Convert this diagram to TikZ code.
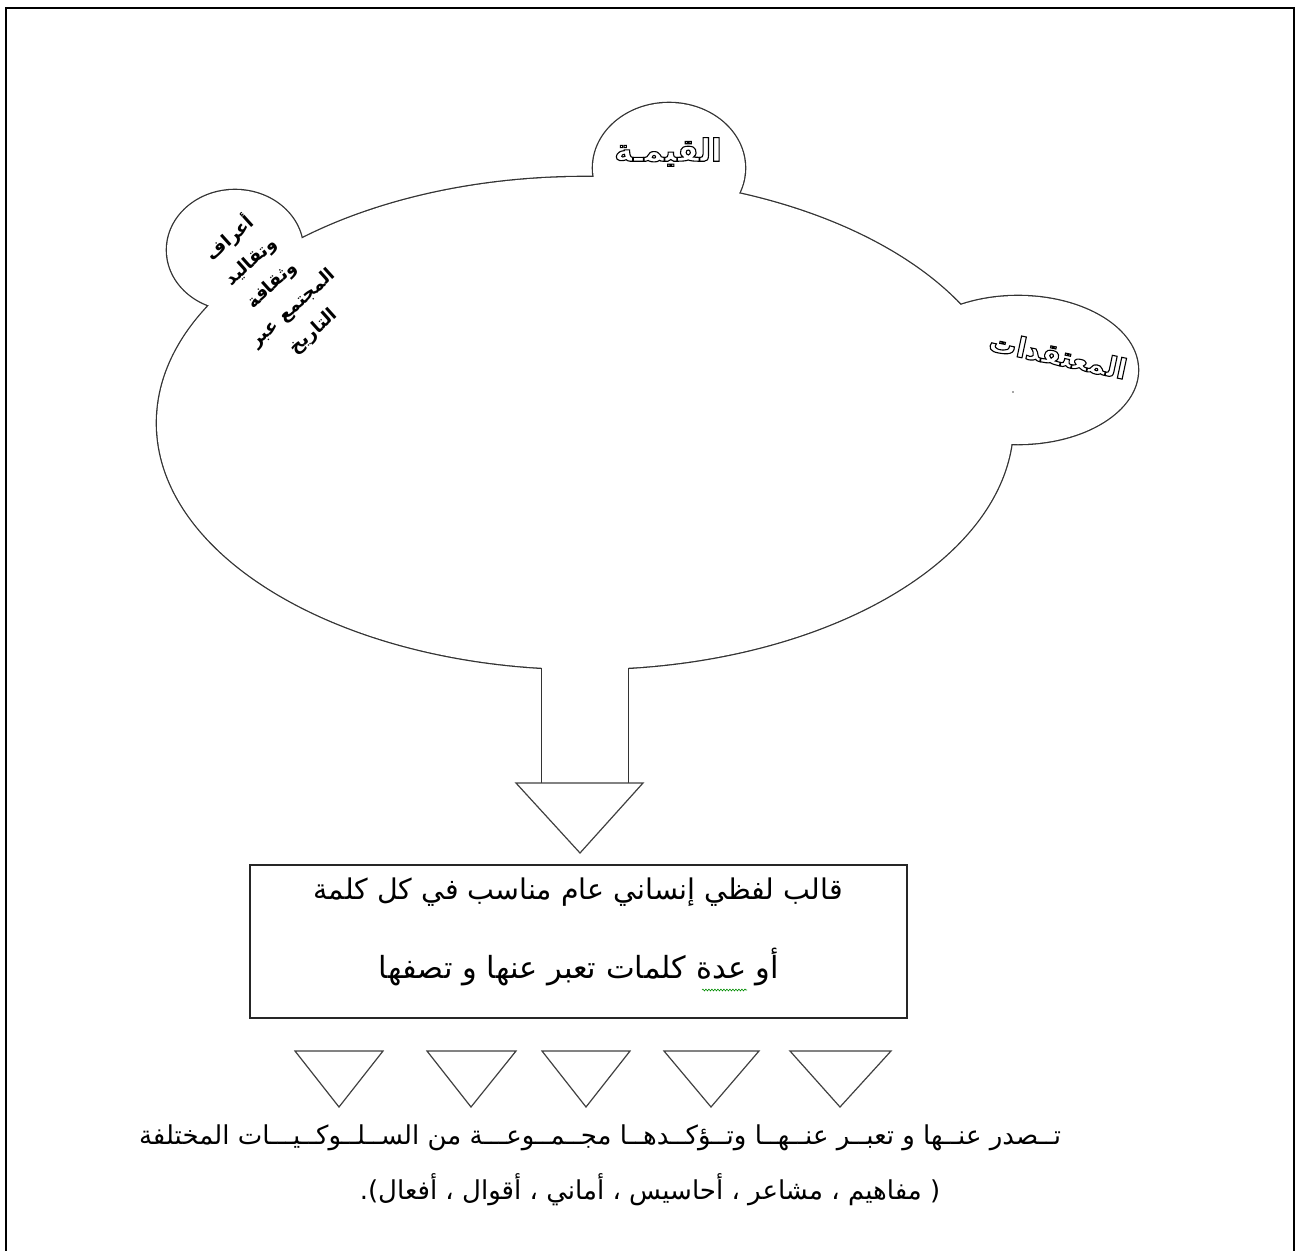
\documentclass[tikz,border=0pt]{standalone}
\usepackage{fontspec}
\usetikzlibrary{decorations.pathmorphing}
\TeXXeTstate=1
\newfontfamily\arabicfont[Script=Arabic]{DejaVu Sans}
\newcommand\hollowtxt[1]{\special{pdf:literal direct 1 Tr 1.1 w}#1\special{pdf:literal direct 0 Tr}}
\tikzset{
  outl/.style={draw=black!80,line width=2.6pt},
  tri/.style={draw=black!75,line width=1.2pt,fill=white},
  txt/.style={inner sep=0pt,font=\arabicfont},
}
\begin{document}
\begin{tikzpicture}[x=1pt,y=-1pt]
\useasboundingbox (0,0) rectangle (1297,1250);
% page frame
\draw[line width=2.5pt] (6,1252) -- (6,8) -- (1294,8) -- (1294,1252);
% union outline of cloud shape
\path[outl] (585,423) ellipse [x radius=428,y radius=246];
\path[outl] (669,168) ellipse [x radius=76,y radius=65];
\path[outl] (235,250) ellipse [x radius=68,y radius=60];
\path[outl] (1018,370) ellipse [x radius=120,y radius=74];
\path[outl] (542,600) rectangle (628,783);
\fill[white] (585,423) ellipse [x radius=428,y radius=246];
\fill[white] (669,168) ellipse [x radius=76,y radius=65];
\fill[white] (235,250) ellipse [x radius=68,y radius=60];
\fill[white] (1018,370) ellipse [x radius=120,y radius=74];
\fill[white] (542,600) rectangle (628,783);
% big arrow head
\coordinate (ta) at (516,783); \coordinate (tb) at (643,783); \coordinate (tc) at (580,853);
\draw[tri] (ta) -- (tb) -- (tc) -- cycle;
% bump texts
\node[txt,font=\arabicfont\bfseries\fontsize{31}{36}\selectfont] (qiyma) at (668,152)
  {\hollowtxt{\beginR القيمـة\endR}};
\node[txt,font=\arabicfont\bfseries\fontsize{28}{34}\selectfont,rotate=-12] (mutaq) at (1058,355)
  {\hollowtxt{\beginR المعتقدات\endR}};
\node[txt,font=\arabicfont\bfseries\fontsize{18}{31}\selectfont,align=center,rotate=42] (aaraf) at (271,284)
  {\beginR أعراف\endR\\\beginR وتقاليد\endR\\\beginR وثقافة\endR\\\beginR المجتمع عبر\endR\\\beginR التاريخ\endR};
\fill[black!70] (1013,392) circle (0.8pt);
% central box
\node[draw=black!85,line width=1.2pt,minimum width=657pt,minimum height=153pt,inner sep=0pt] (box) at (578.5,941.5) {};
\node[txt,font=\arabicfont\fontsize{28.5}{32}\selectfont] (l1) at (578,892) {\beginR قالب لفظي إنساني عام  مناسب في كل كلمة\endR};
\node[txt,font=\arabicfont\fontsize{30.5}{34}\selectfont] (l2) at (579,967) {\beginR أو عدة كلمات تعبر عنها و تصفها\endR};
\coordinate (sq1) at (702,990); \coordinate (sq2) at (747,990);
\draw[green!55!black,line width=0.6pt,decorate,decoration={snake,segment length=3pt,amplitude=0.9pt}] (sq1) -- (sq2);
% small arrow heads
\foreach \a/\b/\c [count=\i] in {295/383/339, 427/516/471, 542/630/586, 664/759/711, 790/891/840}{
  \coordinate (s\i a) at (\a,1051); \coordinate (s\i b) at (\b,1051); \coordinate (s\i c) at (\c,1107);
  \draw[tri] (s\i a) -- (s\i b) -- (s\i c) -- cycle;
}
% bottom text
\node[txt,font=\arabicfont\fontsize{26}{30}\selectfont] (b1) at (600,1138) {\beginR تــصدر عنــها و تعبــر عنــهــا وتــؤكــدهــا مجــمــوعـــة من الســلــوكــيـــات المختلفة\endR};
\node[txt,font=\arabicfont\fontsize{26}{30}\selectfont] (b2) at (650,1190) {\beginR ( مفاهيم ، مشاعر ، أحاسيس ، أماني ، أقوال ، أفعال).\endR};
\end{tikzpicture}
\end{document}
